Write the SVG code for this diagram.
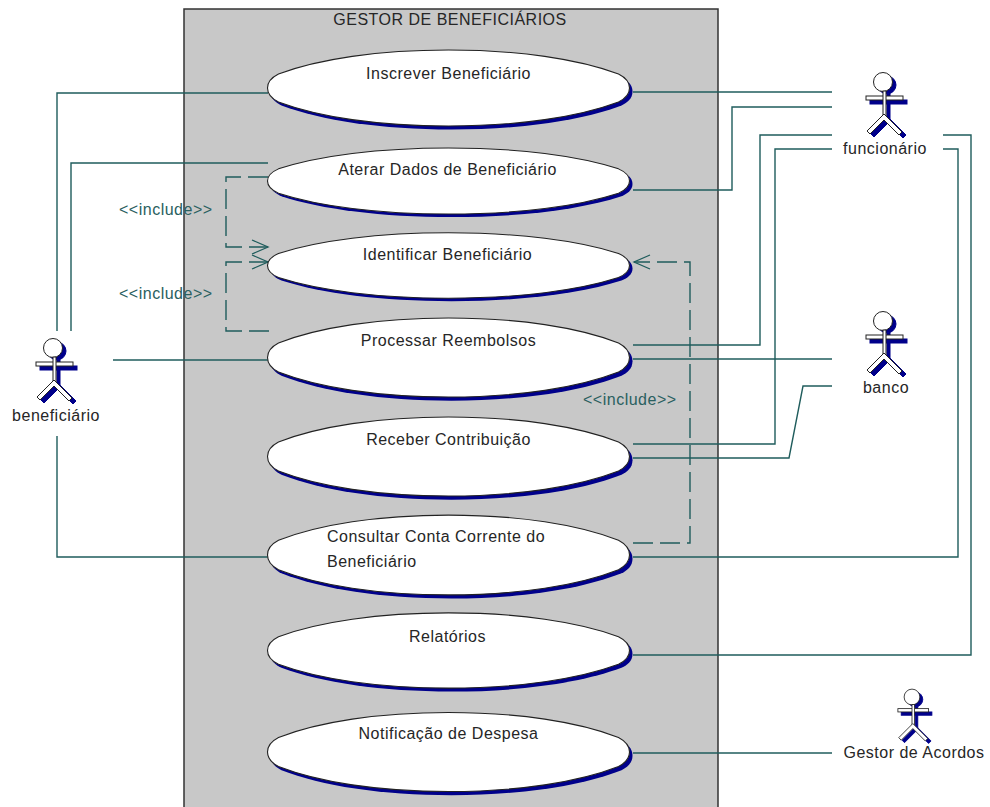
<svg xmlns="http://www.w3.org/2000/svg" width="990" height="807" viewBox="0 0 990 807">
<style>
text{font-family:"Liberation Sans",Arial,sans-serif;font-size:16px;letter-spacing:.5px;fill:#262626;text-anchor:middle}
.inc{fill:#2a6060;text-anchor:start}
.st{text-anchor:start}
.c{fill:none;stroke:#1f5c5c;stroke-width:1.4}
.d{stroke-dasharray:20 7}
.sh{fill:#00008b}
.el{fill:#fff;stroke:#222;stroke-width:1.1;vector-effect:non-scaling-stroke}
.lim{fill:#fff;stroke:#222;stroke-width:1}
.lims{fill:#00008b;stroke:#00008b;stroke-width:1}
</style>
<defs>
<path id="lens" d="M-181 0C-181 -7 -176 -11 -170 -14C-130 -29 -70 -38 0 -38C70 -38 130 -29 170 -14C176 -11 181 -7 181 0C181 7 176 11 170 14C130 29 70 38 0 38C-70 38 -130 29 -170 14C-176 11 -181 7 -181 0Z"/>
<g id="uc"><use href="#lens" class="sh" x="3" y="3.5"/><use href="#lens" class="el"/></g>
<marker id="open" markerWidth="20" markerHeight="20" refX="18" refY="8" orient="auto" markerUnits="userSpaceOnUse"><path d="M2 1L18 8L2 15" fill="none" stroke="#1f5c5c" stroke-width="1.3"/></marker>
<g id="actor">
<g transform="translate(4,3)"><circle class="lims" cx="0" cy="0" r="9"/><rect class="lims" x="-17" y="15" width="37" height="4"/><rect class="lims" x="0" y="9" width="3" height="26"/><path class="lims" d="M1 32L-16 49L-13 52L1 38L16 53L19 50Z"/></g>
<circle class="lim" cx="0" cy="0" r="9.5"/>
<rect class="lim" x="-17" y="14" width="37" height="4"/>
<rect class="lim" x="0" y="9" width="3" height="26"/>
<path class="lim" d="M1 32L-16 49L-13 52L1 38L16 53L19 50Z"/>
</g>
</defs>
<rect width="990" height="807" fill="#fff"/>
<g id="system"><rect x="184" y="9" width="534" height="810" fill="#c8c8c8" stroke="#333" stroke-width="1.5"/><text x="450" y="25">GESTOR DE BENEFICIÁRIOS</text></g>
<g id="connectors">
<path class="c" d="M57 331V93H268"/>
<path class="c" d="M71 331V163H268"/>
<path class="c" d="M113 360H268"/>
<path class="c" d="M57 436V557H268"/>
<path class="c" d="M633 92H832"/>
<path class="c" d="M633 190H732V107H832"/>
<path class="c" d="M633 345H760V135H832"/>
<path class="c" d="M633 359H832"/>
<path class="c" d="M633 444H775V149H832"/>
<path class="c" d="M633 458H789L803 386H832"/>
<path class="c" d="M633 557H958V149H943"/>
<path class="c" d="M633 655H971V135H943"/>
<path class="c" d="M633 753H832"/>
<path class="c d" d="M268 177H226V247H268" marker-end="url(#open)"/>
<path class="c d" d="M269 331H226V262H268" marker-end="url(#open)"/>
<path class="c d" d="M633 543H690V262H634" marker-end="url(#open)"/>
</g>
<g id="uc1"><use href="#uc" transform="translate(448.5 88)"/><text x="448.5" y="79">Inscrever Beneficiário</text></g>
<g id="uc2"><use href="#uc" transform="translate(448.5 181) scale(1 .87)"/><text x="447.5" y="175">Aterar Dados de Beneficiário</text></g>
<g id="uc3"><use href="#uc" transform="translate(448.5 265.5) scale(1 .86)"/><text x="447.5" y="260">Identificar Beneficiário</text></g>
<g id="uc4"><use href="#uc" transform="translate(448.5 357.5) scale(1 1.04)"/><text x="448.5" y="346">Processar Reembolsos</text></g>
<g id="uc5"><use href="#uc" transform="translate(448.5 456.5) scale(1 1.04)"/><text x="448.5" y="445">Receber Contribuição</text></g>
<g id="uc6"><use href="#uc" transform="translate(448.5 555) scale(1 1.05)"/><text class="st" x="327" y="542">Consultar Conta Corrente do</text><text class="st" x="327" y="567">Beneficiário</text></g>
<g id="uc7"><use href="#uc" transform="translate(448.5 650.5) scale(1 .99)"/><text x="447.5" y="642">Relatórios</text></g>
<g id="uc8"><use href="#uc" transform="translate(448.5 752) scale(1 1.04)"/><text x="448.5" y="739">Notificação de Despesa</text></g>
<g id="lbl1"><text class="inc" x="119" y="215">&lt;&lt;include&gt;&gt;</text></g>
<g id="lbl2"><text class="inc" x="119" y="299">&lt;&lt;include&gt;&gt;</text></g>
<g id="lbl3"><text class="inc" x="583" y="405">&lt;&lt;include&gt;&gt;</text></g>
<g id="a1"><use href="#actor" x="883" y="82"/><text x="885" y="154">funcionário</text></g>
<g id="a2"><use href="#actor" x="883" y="321"/><text x="886" y="393">banco</text></g>
<g id="a3"><use href="#actor" x="53" y="348"/><text x="56" y="421">beneficiário</text></g>
<g id="a4"><use href="#actor" transform="translate(912 697) scale(.83)"/><text x="914" y="758">Gestor de Acordos</text></g>
</svg>
